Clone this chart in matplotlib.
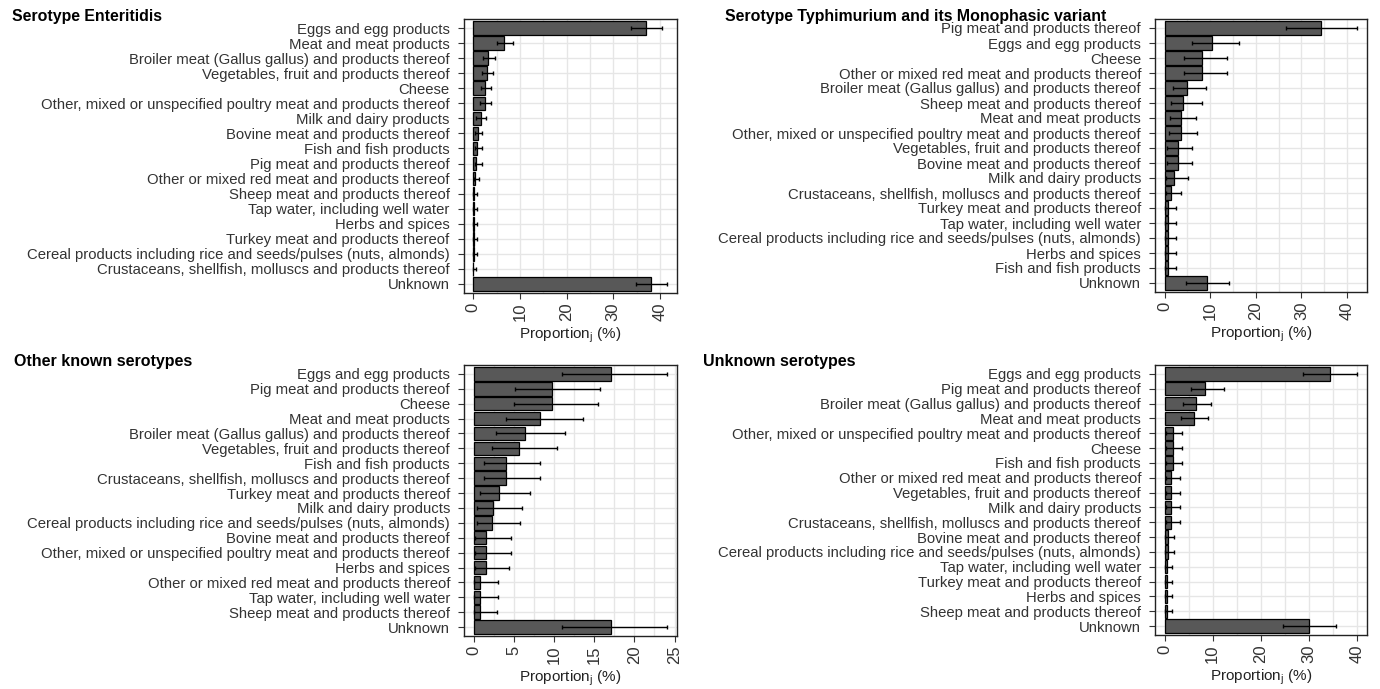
import numpy as np
import matplotlib.pyplot as plt

plt.rcParams['font.family'] = ['Liberation Sans', 'DejaVu Sans']

# Serotype Enteritidis
ent_cats = ["Eggs and egg products", "Meat and meat products",
            "Broiler meat (Gallus gallus) and products thereof",
            "Vegetables, fruit and products thereof", "Cheese",
            "Other, mixed or unspecified poultry meat and products thereof",
            "Milk and dairy products", "Bovine meat and products thereof",
            "Fish and fish products", "Pig meat and products thereof",
            "Other or mixed red meat and products thereof",
            "Sheep meat and products thereof", "Tap water, including well water",
            "Herbs and spices", "Turkey meat and products thereof",
            "Cereal products including rice and seeds/pulses (nuts, almonds)",
            "Crustaceans, shellfish, molluscs and products thereof", "Unknown"]
ent_val = [37.1, 6.7, 3.2, 2.9, 2.5, 2.6, 1.6, 1.1, 0.9, 0.7, 0.4, 0.15, 0.1, 0.1, 0.1, 0.1, 0.05, 38.2]
ent_lo = [33.8, 5.2, 2.0, 1.8, 1.6, 1.4, 0.7, 0.4, 0.4, 0.4, 0.1, 0.0, 0.0, 0.0, 0.0, 0.0, 0.0, 34.9]
ent_hi = [40.5, 8.6, 4.7, 4.2, 3.9, 3.9, 2.7, 1.8, 1.8, 1.8, 1.2, 0.9, 0.8, 0.8, 0.8, 0.8, 0.7, 41.6]

# Serotype Typhimurium and its monophasic variant
typ_cats = ["Pig meat and products thereof", "Eggs and egg products", "Cheese",
            "Other or mixed red meat and products thereof",
            "Broiler meat (Gallus gallus) and products thereof",
            "Sheep meat and products thereof", "Meat and meat products",
            "Other, mixed or unspecified poultry meat and products thereof",
            "Vegetables, fruit and products thereof",
            "Bovine meat and products thereof", "Milk and dairy products",
            "Crustaceans, shellfish, molluscs and products thereof",
            "Turkey meat and products thereof", "Tap water, including well water",
            "Cereal products including rice and seeds/pulses (nuts, almonds)",
            "Herbs and spices", "Fish and fish products", "Unknown"]
typ_val = [34.4, 10.5, 8.3, 8.3, 5.0, 4.0, 3.5, 3.5, 2.9, 2.9, 2.0, 1.3, 0.7, 0.7, 0.7, 0.7, 0.7, 9.2]
typ_lo = [26.7, 6.1, 4.3, 4.3, 1.8, 1.5, 1.2, 1.0, 0.6, 0.6, 0.3, 0.2, 0.1, 0.1, 0.1, 0.1, 0.1, 4.7]
typ_hi = [42.3, 16.3, 13.6, 13.6, 9.0, 8.1, 6.9, 7.2, 5.9, 5.9, 5.1, 3.7, 2.6, 2.5, 2.6, 2.6, 2.6, 14.1]

# Other known serotypes
oth_cats = ["Eggs and egg products", "Pig meat and products thereof", "Cheese",
            "Meat and meat products",
            "Broiler meat (Gallus gallus) and products thereof",
            "Vegetables, fruit and products thereof", "Fish and fish products",
            "Crustaceans, shellfish, molluscs and products thereof",
            "Turkey meat and products thereof", "Milk and dairy products",
            "Cereal products including rice and seeds/pulses (nuts, almonds)",
            "Bovine meat and products thereof",
            "Other, mixed or unspecified poultry meat and products thereof",
            "Herbs and spices", "Other or mixed red meat and products thereof",
            "Tap water, including well water", "Sheep meat and products thereof",
            "Unknown"]
oth_val = [17.1, 9.7, 9.7, 8.2, 6.4, 5.6, 4.0, 4.0, 3.1, 2.4, 2.3, 1.55, 1.55, 1.55, 0.75, 0.75, 0.75, 17.1]
oth_lo = [11.0, 5.1, 5.0, 4.0, 2.8, 2.3, 1.3, 1.3, 0.75, 0.4, 0.4, 0.2, 0.2, 0.2, 0.1, 0.1, 0.1, 11.0]
oth_hi = [24.0, 15.7, 15.5, 13.6, 11.4, 10.4, 8.3, 8.3, 7.0, 6.0, 5.8, 4.6, 4.6, 4.4, 3.05, 3.05, 2.9, 24.1]

# Unknown serotypes
unk_cats = ["Eggs and egg products", "Pig meat and products thereof",
            "Broiler meat (Gallus gallus) and products thereof",
            "Meat and meat products",
            "Other, mixed or unspecified poultry meat and products thereof",
            "Cheese", "Fish and fish products",
            "Other or mixed red meat and products thereof",
            "Vegetables, fruit and products thereof", "Milk and dairy products",
            "Crustaceans, shellfish, molluscs and products thereof",
            "Bovine meat and products thereof",
            "Cereal products including rice and seeds/pulses (nuts, almonds)",
            "Tap water, including well water", "Turkey meat and products thereof",
            "Herbs and spices", "Sheep meat and products thereof", "Unknown"]
unk_val = [34.4, 8.5, 6.5, 6.2, 1.8, 1.8, 1.8, 1.3, 1.3, 1.3, 1.3, 0.7, 0.7, 0.4, 0.4, 0.4, 0.4, 30.1]
unk_lo = [28.8, 5.4, 3.8, 3.4, 0.3, 0.3, 0.3, 0.2, 0.2, 0.2, 0.2, 0.1, 0.1, 0.05, 0.05, 0.05, 0.05, 24.7]
unk_hi = [40.1, 12.4, 9.7, 9.1, 3.7, 3.7, 3.7, 3.2, 3.2, 3.2, 3.2, 1.9, 1.9, 1.5, 1.5, 1.5, 1.5, 35.7]

W, H = 1380, 689
fig = plt.figure(figsize=(W / 100, H / 100), dpi=100)


def panel(rect_px, cats, val, lo, hi, ticks, minor, title, title_xy, title_size):
    l, t, r, b = rect_px
    ax = fig.add_axes([l / W, 1 - b / H, (r - l) / W, (b - t) / H])
    y = np.arange(len(cats))
    val = np.array(val)
    err = [val - np.array(lo), np.array(hi) - val]
    ax.barh(y, val, height=0.9, color='#585858', edgecolor='black',
            linewidth=0.9, zorder=2)
    ax.errorbar(val, y, xerr=err, fmt='none', ecolor='black', elinewidth=1,
                capsize=1.5, capthick=1, zorder=3)
    ax.set_yticks(y)
    ax.set_yticklabels(cats, fontsize=10.75, color='#333333')
    ax.set_ylim(len(cats) - 0.4, -0.6)
    # ggplot-like 5% expansion of the data range
    top = max(hi)
    ax.set_xlim(-0.05 * top, 1.05 * top)
    ax.set_xticks(ticks)
    ax.set_xticks(minor, minor=True)
    ax.set_xticklabels([str(v) for v in ticks], rotation=90, fontsize=12,
                       color='#333333')
    ax.tick_params(axis='both', which='major', length=4, width=0.8,
                   color='#333333')
    ax.tick_params(axis='y', which='major', pad=6)
    ax.tick_params(axis='x', which='major', pad=3)
    ax.tick_params(axis='x', which='minor', length=0)
    ax.grid(True, which='both', axis='x', color='#e6e6e6', linewidth=1, zorder=0)
    ax.grid(True, which='major', axis='y', color='#e6e6e6', linewidth=1, zorder=0)
    ax.set_axisbelow(True)
    for s in ax.spines.values():
        s.set_color('#222222')
        s.set_linewidth(1)
    ax.set_xlabel('Proportion$_\\mathregular{j}$ (%)', fontsize=11, labelpad=3,
                  color='#222222')
    fig.text(title_xy[0] / W, 1 - title_xy[1] / H, title, fontsize=title_size,
             fontweight='bold', ha='left', va='center')
    return ax


panel((463.5, 19, 677, 293), ent_cats, ent_val, ent_lo, ent_hi,
      [0, 10, 20, 30, 40], np.arange(5, 45, 10), 'Serotype Enteritidis',
      (12, 16), 11.4)
panel((1155, 19, 1367, 292), typ_cats, typ_val, typ_lo, typ_hi,
      [0, 10, 20, 30, 40], np.arange(5, 45, 10),
      'Serotype Typhimurium and its Monophasic variant', (725, 16), 11.4)
panel((464, 365, 677, 636), oth_cats, oth_val, oth_lo, oth_hi,
      [0, 5, 10, 15, 20, 25], np.arange(2.5, 27.5, 5), 'Other known serotypes',
      (14, 362), 11.5)
panel((1155, 365, 1367, 635), unk_cats, unk_val, unk_lo, unk_hi,
      [0, 10, 20, 30, 40], np.arange(5, 45, 10), 'Unknown serotypes',
      (703, 362), 11.5)

fig.savefig('out.png', dpi=100)
